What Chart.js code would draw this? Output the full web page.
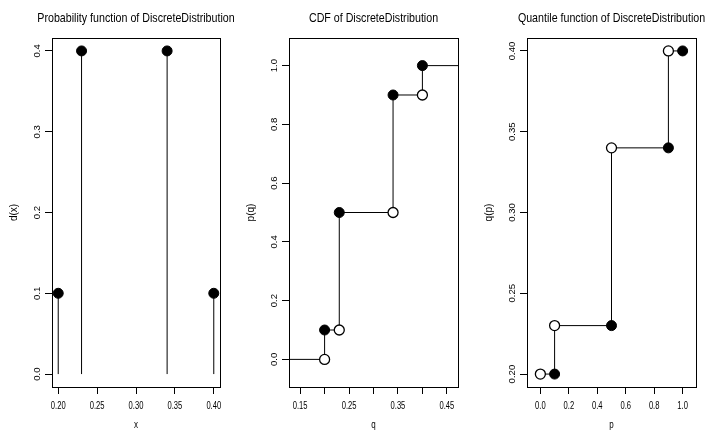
<!DOCTYPE html>
<html>
<head>
<meta charset="utf-8">
<script src="https://cdn.jsdelivr.net/npm/chart.js@4/dist/chart.umd.min.js"></script>
<style>
  body { margin: 0; background: #fff; }
  canvas { position: absolute; top: 0; }
</style>
</head>
<body>
<canvas id="pmf" width="236" height="432" style="left:0px"></canvas>
<canvas id="cdf" width="236" height="432" style="left:236px"></canvas>
<canvas id="qf" width="237" height="432" style="left:472px"></canvas>
<script>
// support points and their probabilities
const supportX = [0.2, 0.23, 0.34, 0.4];
const probs = [0.1, 0.4, 0.4, 0.1];

// CDF: value just before each jump (open) and at the jump (filled)
const cdfOpen = [0, 0.1, 0.5, 0.9];
const cdfFilled = [0.1, 0.5, 0.9, 1.0];

// quantile function: p where each level starts (open) and ends (filled)
const qOpenP = [0, 0.1, 0.5, 0.9];
const qFilledP = [0.1, 0.5, 0.9, 1.0];
const qLevels = [0.2, 0.23, 0.34, 0.4];

// ticks
const pmfXTicks = [0.2, 0.25, 0.3, 0.35, 0.4];
const pmfXLabels = ["0.20", "0.25", "0.30", "0.35", "0.40"];
const pmfYTicks = [0, 0.1, 0.2, 0.3, 0.4];
const pmfYLabels = ["0.0", "0.1", "0.2", "0.3", "0.4"];
const cdfXTicks = [0.15, 0.2, 0.25, 0.3, 0.35, 0.4, 0.45];
const cdfXLabels = ["0.15", "", "0.25", "", "0.35", "", "0.45"];
const cdfYTicks = [0, 0.2, 0.4, 0.6, 0.8, 1.0];
const cdfYLabels = ["0.0", "0.2", "0.4", "0.6", "0.8", "1.0"];
const qXTicks = [0, 0.2, 0.4, 0.6, 0.8, 1.0];
const qXLabels = ["0.0", "0.2", "0.4", "0.6", "0.8", "1.0"];
const qYTicks = [0.2, 0.25, 0.3, 0.35, 0.4];
const qYLabels = ["0.20", "0.25", "0.30", "0.35", "0.40"];

const FONT = "'Liberation Sans', Arial, Helvetica, sans-serif";

// horizontal text in the reference is narrower than Liberation Sans
function text(ctx, str, x, y, squeeze, rotated) {
  ctx.save();
  ctx.translate(x, y);
  ctx.scale(squeeze, 1);
  if (rotated) ctx.rotate(-Math.PI / 2);
  ctx.fillText(str, 0, 0);
  ctx.restore();
}

// box, titles and tick labels, drawn the R way
const rPlot = {
  id: "rPlot",
  afterDraw(chart, args, opts) {
    const { ctx, chartArea: a } = chart;
    const xs = chart.scales.x, ys = chart.scales.y;
    ctx.save();
    ctx.strokeStyle = "#000";
    ctx.lineWidth = 1;
    ctx.strokeRect(Math.round(a.left) + 0.5, Math.round(a.top) + 0.5,
      Math.round(a.right - a.left), Math.round(a.bottom - a.top));
    ctx.fillStyle = "#000";
    ctx.textAlign = "center";
    ctx.textBaseline = "alphabetic";
    const cx = (a.left + a.right) / 2;
    ctx.font = "13px " + FONT;
    text(ctx, opts.main, cx, 21.5, 0.82, false);
    ctx.font = "10px " + FONT;
    text(ctx, opts.xlab, cx, 427.5, 0.8, false);
    text(ctx, opts.ylab, a.left - 35, (a.top + a.bottom) / 2, 1, true);
    opts.xTicks.forEach((v, i) => text(ctx, opts.xLabels[i], xs.getPixelForValue(v), 408.5, 0.76, false));
    ctx.font = "9.6px " + FONT;
    opts.yTicks.forEach((v, i) => text(ctx, opts.yLabels[i], a.left - 12.5, ys.getPixelForValue(v), 1, true));
    ctx.restore();
  }
};

function axis(min, max, ticks, isX) {
  return {
    type: "linear",
    min: min,
    max: max,
    afterBuildTicks: (s) => { s.ticks = ticks.map((v) => ({ value: v })); },
    afterFit: (s) => { if (isX) s.height = 0; else s.width = 0; },
    grid: { drawOnChartArea: false, drawTicks: true, tickLength: 7, color: "#000", lineWidth: 1 },
    border: { display: false },
    ticks: { display: false }
  };
}

function lineSet(points) {
  return { data: points, showLine: true, borderColor: "#000", borderWidth: 1, pointRadius: 0, order: 3 };
}
function openSet(points) {
  return { data: points, showLine: false, pointRadius: 5, pointHoverRadius: 5,
    backgroundColor: "#fff", borderColor: "#000", borderWidth: 1.3, order: 1 };
}
function filledSet(points) {
  return { data: points, showLine: false, pointRadius: 5, pointHoverRadius: 5,
    backgroundColor: "#000", borderColor: "#000", borderWidth: 1, order: 0 };
}

function makeChart(id, pad, datasets, xs, ys, labels) {
  return new Chart(document.getElementById(id), {
    type: "scatter",
    data: { datasets: datasets },
    options: {
      responsive: false,
      animation: false,
      events: [],
      layout: { padding: pad },
      plugins: {
        legend: { display: false },
        tooltip: { enabled: false },
        rPlot: labels
      },
      scales: { x: xs, y: ys }
    },
    plugins: [rPlot]
  });
}

// Probability function
makeChart("pmf", { left: 52, right: 16, top: 38, bottom: 45 },
  supportX.map((x, i) => lineSet([{ x: x, y: 0 }, { x: x, y: probs[i] }]))
    .concat([filledSet(supportX.map((x, i) => ({ x: x, y: probs[i] })))]),
  axis(0.192, 0.408, pmfXTicks, true),
  axis(-0.016, 0.416, pmfYTicks, false),
  { main: "Probability function of DiscreteDistribution", xlab: "x", ylab: "d(x)",
    xTicks: pmfXTicks, xLabels: pmfXLabels, yTicks: pmfYTicks, yLabels: pmfYLabels });

// CDF
const cdfXMin = 0.1272, cdfXMax = 0.4728;
const cdfPath = [{ x: cdfXMin, y: cdfOpen[0] }]
  .concat(supportX.map((x, i) => ({ x: x, y: cdfFilled[i] })))
  .concat([{ x: cdfXMax, y: cdfFilled[cdfFilled.length - 1] }]);
const cdfLine = lineSet(cdfPath);
cdfLine.stepped = "before";
makeChart("cdf", { left: 53, right: 14, top: 38, bottom: 45 },
  [cdfLine,
   openSet(supportX.map((x, i) => ({ x: x, y: cdfOpen[i] }))),
   filledSet(supportX.map((x, i) => ({ x: x, y: cdfFilled[i] })))],
  axis(cdfXMin, cdfXMax, cdfXTicks, true),
  axis(-0.094, 1.094, cdfYTicks, false),
  { main: "CDF of DiscreteDistribution", xlab: "q", ylab: "p(q)",
    xTicks: cdfXTicks, xLabels: cdfXLabels, yTicks: cdfYTicks, yLabels: cdfYLabels });

// Quantile function
const qPath = qOpenP.map((p, i) => ({ x: p, y: qLevels[i] }))
  .concat([{ x: qFilledP[qFilledP.length - 1], y: qLevels[qLevels.length - 1] }]);
const qLine = lineSet(qPath);
qLine.stepped = "before";
makeChart("qf", { left: 55, right: 13, top: 38, bottom: 45 },
  [qLine,
   openSet(qOpenP.map((p, i) => ({ x: p, y: qLevels[i] }))),
   filledSet(qFilledP.map((p, i) => ({ x: p, y: qLevels[i] })))],
  axis(-0.094, 1.094, qXTicks, true),
  axis(0.192, 0.408, qYTicks, false),
  { main: "Quantile function of DiscreteDistribution", xlab: "p", ylab: "q(p)",
    xTicks: qXTicks, xLabels: qXLabels, yTicks: qYTicks, yLabels: qYLabels });
</script>
</body>
</html>
